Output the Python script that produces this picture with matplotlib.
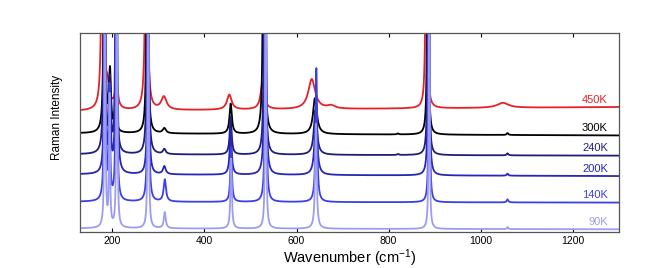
import numpy as np
import matplotlib.pyplot as plt

plt.rcParams['font.family'] = ['Liberation Sans', 'DejaVu Sans']
plt.rcParams['mathtext.default'] = 'regular'

# temperatures, colours and baselines (left, right)
temps = ['450K', '300K', '240K', '200K', '140K', '90K']
colors = ['#e52228', '#000000', '#1e1e7a', '#2626b8', '#3e3ee6', '#9c9cf4']
base_left = [121.0, 98.7, 77.7, 57.7, 30.3, 3.7]
base_right = [125.0, 96.6, 76.4, 56.0, 29.5, 2.8]
label_y = [132, 104, 84, 63, 37, 10]

# peaks per spectrum: (centre cm-1, height, fwhm)
peaks_450 = [(179, 400, 4), (190, 22, 10), (209, 24, 8), (274, 400, 4), (312, 13, 14),
             (454, 15, 12), (526, 26, 10), (633, 30, 18), (675, 3, 20),
             (882, 400, 3), (1048, 5, 30)]
peaks_300 = [(183, 400, 3), (195, 60, 5), (207, 25, 5), (276, 400, 3), (313, 5, 8),
             (457, 30, 6), (529, 400, 3.5), (640, 36, 10), (820, 1, 4),
             (885, 400, 2.5), (1058, 2, 4)]
peaks_240 = [(183, 400, 3), (195, 70, 4), (208, 300, 3), (277, 400, 3), (313, 5, 7),
             (457, 38, 5), (531, 400, 3), (641, 45, 8), (820, 1, 4),
             (886, 400, 2.5), (1058, 2, 4)]
peaks_200 = [(184, 400, 2.5), (195, 80, 4), (209, 400, 3), (278, 400, 2.5), (313, 8, 7),
             (457, 45, 5), (532, 400, 3), (642, 60, 7),
             (887, 400, 2.5), (1058, 2, 4)]
peaks_140 = [(184, 400, 2.5), (194, 110, 3), (209, 400, 2.5), (278, 400, 2.5), (314, 22, 6),
             (458, 55, 4), (533, 400, 2.5), (643, 134, 4),
             (888, 400, 2), (1058, 3, 4)]
peaks_90 = [(184, 400, 2), (194, 130, 2.5), (210, 400, 2), (278, 400, 2), (314, 16, 5),
            (458, 70, 3.5), (533, 400, 2), (642, 105, 4),
            (888, 400, 1.8), (1058, 2, 3)]
all_peaks = [peaks_450, peaks_300, peaks_240, peaks_200, peaks_140, peaks_90]


def spectrum(x, peaks, b0, b1):
    y = b0 + (b1 - b0) * (x - x[0]) / (x[-1] - x[0])
    for c, h, w in peaks:
        y = y + h / (1 + (2 * (x - c) / w) ** 2)
    return y


x = np.linspace(130, 1300, 6000)

fig = plt.figure(figsize=(6.67, 2.68), dpi=100)
ax = fig.add_axes([0.12, 0.134, 0.808, 0.743])

for i in range(len(temps)):
    y = spectrum(x, all_peaks[i], base_left[i], base_right[i])
    ax.plot(x, y, color=colors[i], lw=1.3)
    ax.text(1276, label_y[i], temps[i], color=colors[i], fontsize=8,
            ha='right', va='center')

ax.set_xlim(130, 1300)
ax.set_ylim(0, 199)
ax.set_xticks([200, 400, 600, 800, 1000, 1200])
ax.set_yticks([])
ax.tick_params(axis='x', direction='in', top=True, labelsize=7.5, length=3, pad=3)
for s in ax.spines.values():
    s.set_color('#555555')
    s.set_linewidth(0.9)
ax.set_xlabel('Wavenumber (cm$^{-1}$)', fontsize=10.5, labelpad=1)
ax.set_ylabel('Raman Intensity', fontsize=8.5)
ax.yaxis.set_label_coords(-0.031, 0.575)

fig.savefig('out.png', dpi=100)
